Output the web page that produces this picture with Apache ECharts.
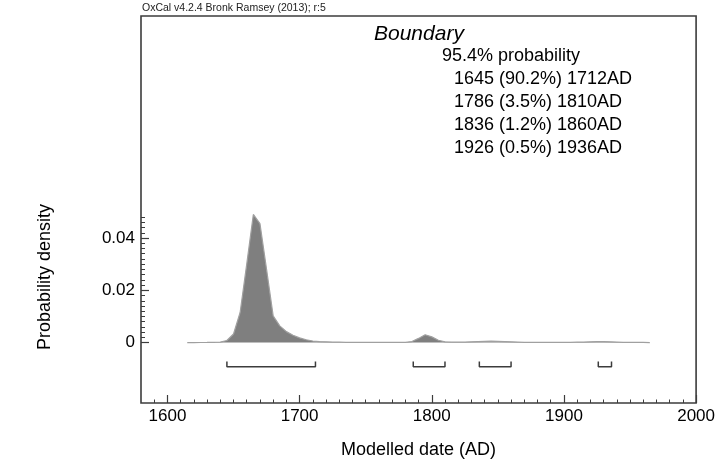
<!DOCTYPE html>
<html>
<head>
<meta charset="utf-8">
<script src="https://cdn.jsdelivr.net/npm/echarts@6/dist/echarts.min.js"></script>
<style>
  html, body { margin: 0; padding: 0; background: #fff; }
  #chart { width: 718px; height: 466px; }
</style>
</head>
<body>
<div id="chart"></div>
<script>
// Posterior density of the Boundary, 5-year resolution
const years = [
  1615, 1620, 1625, 1630, 1635, 1640, 1645, 1650, 1655, 1660,
  1665, 1670, 1675, 1680, 1685, 1690, 1695, 1700, 1705, 1710,
  1715, 1720, 1725, 1730, 1735, 1740, 1745, 1750, 1755, 1760,
  1765, 1770, 1775, 1780, 1785, 1790, 1795, 1800, 1805, 1810,
  1815, 1820, 1825, 1830, 1835, 1840, 1845, 1850, 1855, 1860,
  1865, 1870, 1875, 1880, 1885, 1890, 1895, 1900, 1905, 1910,
  1915, 1920, 1925, 1930, 1935, 1940, 1945, 1950, 1955, 1960,
  1965
];
const density = [
  0, 0.00002, 0.00003, 0.00005, 0.0001, 0.0002, 0.0008, 0.0033, 0.0115, 0.0300,
  0.0490, 0.0455, 0.0280, 0.0102, 0.0064, 0.0042, 0.0028, 0.0018, 0.0011, 0.0006,
  0.0004, 0.0003, 0.0002, 0.0002, 0.0001, 0.0001, 0.0001, 0.0001, 0.0001, 0.0001,
  0.0001, 0.0001, 0.0001, 0.0001, 0.0004, 0.0016, 0.0030, 0.0022, 0.0009, 0.0003,
  0.0002, 0.0002, 0.0002, 0.0003, 0.0004, 0.0005, 0.0006, 0.0005, 0.0004, 0.0003,
  0.0002, 0.0001, 0.0001, 0.0001, 0.0001, 0.0001, 0.0001, 0.0001, 0.0001, 0.0002,
  0.0002, 0.0003, 0.0004, 0.0004, 0.0003, 0.0002, 0.0001, 0.0001, 0.0001, 0.0001,
  0
];

// 95.4% highest posterior density ranges
const rangeStart = [1645, 1786, 1836, 1926];
const rangeEnd = [1712, 1810, 1860, 1936];
const rangeProb = ['90.2', '3.5', '1.2', '0.5'];

// Axis ticks
const xMajorTicks = [1600, 1700, 1800, 1900, 2000];
const xMinorTicks = [
  1590, 1610, 1620, 1630, 1640, 1650, 1660, 1670, 1680, 1690,
  1710, 1720, 1730, 1740, 1750, 1760, 1770, 1780, 1790,
  1810, 1820, 1830, 1840, 1850, 1860, 1870, 1880, 1890,
  1910, 1920, 1930, 1940, 1950, 1960, 1970, 1980, 1990
];
const yMajorTicks = [0, 0.02, 0.04];
const yMinorTicks = [
  0.002, 0.004, 0.006, 0.008, 0.010, 0.012, 0.014, 0.016, 0.018,
  0.022, 0.024, 0.026, 0.028, 0.030, 0.032, 0.034, 0.036, 0.038,
  0.042, 0.044, 0.046, 0.048
];

const FONT = '"Liberation Sans", Arial, Helvetica, sans-serif';
const INK = '#3c3c3c';

const chart = echarts.init(document.getElementById('chart'), null, { renderer: 'canvas' });

// Bracket marks for each range, drawn below the density
const BAR_Y = -0.0092;
const BAR_TIP = -0.0072;
const bracketSeries = rangeStart.map((s, i) => ({
  type: 'line',
  xAxisIndex: 0,
  yAxisIndex: 0,
  symbol: 'none',
  silent: true,
  lineStyle: { color: INK, width: 1.5 },
  data: [[s, BAR_TIP], [s, BAR_Y], [rangeEnd[i], BAR_Y], [rangeEnd[i], BAR_TIP]],
  z: 3
}));

const textLines = [
  { text: '95.4% probability', x: 442 }
].concat(rangeStart.map((s, i) => ({
  text: s + ' (' + rangeProb[i] + '%) ' + rangeEnd[i] + 'AD', x: 454
})));

const graphics = [
  {
    type: 'text', left: 142, top: 3,
    style: { text: 'OxCal v4.2.4 Bronk Ramsey (2013); r:5', font: '10.5px ' + FONT, fill: '#222' }
  },
  {
    type: 'text', left: 374, top: 24,
    style: { text: 'Boundary', font: 'italic 21px ' + FONT, fill: '#000' }
  },
  {
    // vertical axis title, centred on the density region
    type: 'text', x: 45, y: 277, rotation: Math.PI / 2,
    style: { text: 'Probability density', font: '18px ' + FONT, fill: '#000', align: 'center', verticalAlign: 'middle' }
  }
].concat(textLines.map((t, i) => ({
  type: 'text', left: t.x, top: 47 + i * 23,
  style: { text: t.text, font: '18px ' + FONT, fill: '#000' }
})));

const option = {
  animation: false,
  backgroundColor: '#fff',
  textStyle: { fontFamily: FONT },
  grid: {
    left: 141, right: 20, top: 16, bottom: 63,
    show: true, borderColor: INK, borderWidth: 1.6, backgroundColor: 'transparent'
  },
  xAxis: [
    {
      type: 'value', min: 1580, max: 2000, position: 'bottom',
      name: 'Modelled date (AD)', nameLocation: 'middle', nameGap: 38,
      nameTextStyle: { fontSize: 18, color: '#000', fontFamily: FONT },
      axisLine: { show: false, onZero: false },
      axisTick: { show: true, inside: true, length: 8, customValues: xMajorTicks, lineStyle: { color: INK, width: 1.2 } },
      axisLabel: { show: true, customValues: xMajorTicks, fontSize: 17, color: '#000', margin: 5, fontFamily: FONT,
        formatter: v => String(v) },
      splitLine: { show: false }
    },
    {
      type: 'value', min: 1580, max: 2000, position: 'bottom', offset: 0,
      axisLine: { show: false, onZero: false },
      axisTick: { show: true, inside: true, length: 3.5, customValues: xMinorTicks, lineStyle: { color: INK, width: 1 } },
      axisLabel: { show: false },
      splitLine: { show: false }
    }
  ],
  yAxis: [
    {
      type: 'value', min: -0.0231, max: 0.1249, position: 'left',
      axisLine: { show: false, onZero: false },
      axisTick: { show: true, inside: true, length: 8, customValues: yMajorTicks, lineStyle: { color: INK, width: 1.2 } },
      axisLabel: { show: true, customValues: yMajorTicks, fontSize: 17, color: '#000', margin: 6, fontFamily: FONT,
        formatter: v => (v === 0 ? '0' : String(v)) },
      splitLine: { show: false }
    },
    {
      type: 'value', min: -0.0231, max: 0.1249, position: 'left', offset: 0,
      axisLine: { show: false, onZero: false },
      axisTick: { show: true, inside: true, length: 4, customValues: yMinorTicks, lineStyle: { color: INK, width: 1 } },
      axisLabel: { show: false },
      splitLine: { show: false }
    }
  ],
  graphic: graphics,
  series: [
    {
      type: 'line',
      xAxisIndex: 0,
      yAxisIndex: 0,
      symbol: 'none',
      silent: true,
      data: years.map((y, i) => [y, density[i]]),
      lineStyle: { color: '#a0a0a0', width: 1.2 },
      areaStyle: { color: '#7f7f7f', opacity: 1, origin: 0 },
      z: 2
    }
  ].concat(bracketSeries)
};

chart.setOption(option);
</script>
</body>
</html>
